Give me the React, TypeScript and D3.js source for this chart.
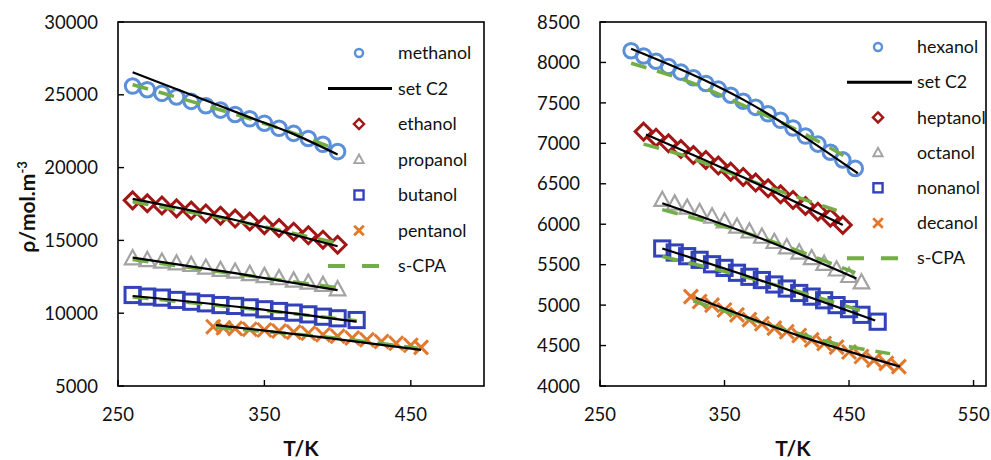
import React from "react";
import * as d3 from "d3";

// ---------- ticks ----------
const leftTicksX = [250, 350, 450];
const leftTicksY = [5000, 10000, 15000, 20000, 25000, 30000];
const rightTicksX = [250, 350, 450, 550];
const rightTicksY = [4000, 4500, 5000, 5500, 6000, 6500, 7000, 7500, 8000, 8500];

// ---------- left panel experimental data ----------
const tMethanol = [260, 270, 280, 290, 300, 310, 320, 330, 340, 350, 360, 370, 380, 390, 400];
const methanol = [25600, 25350, 25100, 24850, 24550, 24250, 23950, 23650, 23350, 23050, 22700, 22350, 22000, 21600, 21100];
const tEthanol = [260, 270, 280, 290, 300, 310, 320, 330, 340, 350, 360, 370, 380, 390, 400];
const ethanol = [17750, 17550, 17400, 17200, 17050, 16850, 16700, 16500, 16300, 16050, 15850, 15600, 15350, 15050, 14700];
const tPropanol = [260, 270, 280, 290, 300, 310, 320, 330, 340, 350, 360, 370, 380, 390, 400];
const propanol = [13770, 13650, 13540, 13420, 13310, 13130, 12970, 12850, 12690, 12550, 12400, 12240, 12100, 11940, 11640];
const tButanol = [260, 270, 280, 290, 300, 310, 320, 330, 340, 350, 360, 370, 380, 390, 400, 413];
const butanol = [11250, 11140, 11070, 10910, 10790, 10680, 10560, 10500, 10400, 10270, 10150, 10040, 9920, 9760, 9650, 9530];
const tPentanol = [315, 322, 330, 340, 350, 360, 370, 380, 390, 400, 410, 420, 430, 440, 450, 457];
const pentanol = [9070, 9000, 8960, 8900, 8850, 8780, 8700, 8620, 8520, 8420, 8300, 8180, 8060, 7940, 7800, 7650];

// ---------- left panel model curves ----------
const tMethanolC2 = [260, 300, 340, 370, 400];
const methanolC2 = [26550, 25000, 23450, 22300, 20900];
const tMethanolS = [260, 300, 340, 380, 398];
const methanolS = [25700, 24550, 23350, 22000, 21300];
const tEthanolC2 = [260, 330, 400];
const ethanolC2 = [17850, 16400, 14600];
const tEthanolS = [260, 330, 398];
const ethanolS = [17650, 16350, 14850];
const tPropanolC2 = [260, 330, 400];
const propanolC2 = [13820, 12750, 11580];
const tPropanolS = [260, 330, 400];
const propanolS = [13680, 12700, 11750];
const tButanolC2 = [260, 340, 413];
const butanolC2 = [11180, 10350, 9420];
const tButanolS = [260, 340, 413];
const butanolS = [11120, 10300, 9480];
const tPentanolC2 = [317, 390, 457];
const pentanolC2 = [9180, 8340, 7480];
const tPentanolS = [317, 390, 455];
const pentanolS = [9000, 8380, 7600];

// ---------- right panel experimental data ----------
const tHexanol = [275, 285, 295, 305, 315, 325, 335, 345, 355, 365, 375, 385, 395, 405, 415, 425, 435, 445, 455];
const hexanol = [8145, 8080, 8015, 7950, 7880, 7810, 7740, 7670, 7595, 7520, 7445, 7365, 7285, 7190, 7090, 6990, 6890, 6795, 6690];
const tHeptanol = [285, 295, 305, 315, 325, 335, 345, 355, 365, 375, 385, 395, 405, 415, 425, 435, 445];
const heptanol = [7145, 7070, 7000, 6930, 6855, 6795, 6725, 6650, 6585, 6515, 6445, 6370, 6300, 6225, 6155, 6080, 5990];
const tOctanol = [300, 310, 320, 330, 340, 350, 360, 370, 380, 390, 400, 410, 420, 430, 440, 450, 460];
const octanol = [6300, 6255, 6205, 6150, 6095, 6035, 5970, 5910, 5845, 5780, 5715, 5650, 5580, 5510, 5440, 5360, 5280];
const tNonanol = [300, 310, 320, 330, 340, 350, 360, 370, 380, 390, 400, 410, 420, 430, 440, 450, 460, 473];
const nonanol = [5700, 5650, 5605, 5560, 5505, 5460, 5400, 5350, 5310, 5255, 5205, 5150, 5105, 5060, 5000, 4950, 4880, 4795];
const tDecanol = [323, 330, 340, 350, 360, 370, 380, 390, 400, 410, 420, 430, 440, 450, 460, 470, 480, 490];
const decanol = [5105, 5045, 5000, 4940, 4880, 4820, 4770, 4715, 4670, 4625, 4570, 4525, 4480, 4420, 4365, 4320, 4280, 4240];

// ---------- right panel model curves ----------
const tHexanolC2 = [275, 365, 457];
const hexanolC2 = [8170, 7540, 6630];
const tHexanolS = [275, 325, 365, 410, 450];
const hexanolS = [7990, 7740, 7470, 7150, 6810];
const tHeptanolC2 = [287, 365, 445];
const heptanolC2 = [7110, 6580, 5990];
const tHeptanolS = [285, 315, 365, 440];
const heptanolS = [6990, 6860, 6570, 6170];
const tOctanolC2 = [300, 380, 456];
const octanolC2 = [6260, 5820, 5330];
const tOctanolS = [300, 380, 455];
const octanolS = [6180, 5830, 5400];
const tNonanolC2 = [300, 380, 471];
const nonanolC2 = [5700, 5300, 4810];
const tNonanolS = [300, 380, 462];
const nonanolS = [5600, 5295, 4920];
const tDecanolC2 = [327, 410, 491];
const decanolC2 = [5090, 4620, 4240];
const tDecanolS = [325, 400, 440, 483];
const decanolS = [5050, 4690, 4520, 4400];

// ---------- legend labels ----------
const leftLegend = ["methanol", "set C2", "ethanol", "propanol", "butanol", "pentanol", "s-CPA"];
const rightLegend = ["hexanol", "set C2", "heptanol", "octanol", "nonanol", "decanol", "s-CPA"];

const C_LBLUE = "#5B8FD8";
const C_RED = "#A31616";
const C_GRAY = "#A3A3A3";
const C_BLUE = "#3342B8";
const C_ORANGE = "#E0782E";
const C_GREEN = "#72AE45";
const FONT = "Lato, 'Liberation Sans', sans-serif";

type MarkerType = "circle" | "diamond" | "triangle" | "square" | "x";
const markerTypes: MarkerType[] = ["circle", "diamond", "triangle", "square", "x"];
const markerColors = [C_LBLUE, C_RED, C_GRAY, C_BLUE, C_ORANGE];

function Marker({ type, x, y, color, big }: { type: MarkerType; x: number; y: number; color: string; big: boolean }) {
  const k = big ? 1 : 0.6;
  const sw = big ? 3 : 2.4;
  if (type === "circle") {
    return <circle cx={x} cy={y} r={big ? 7.3 : 4} fill="none" stroke={color} strokeWidth={sw} />;
  }
  if (type === "diamond") {
    const s = 8.4 * k;
    return <path d={`M${x},${y - s}L${x + s},${y}L${x},${y + s}L${x - s},${y}Z`} fill="none" stroke={color} strokeWidth={sw} />;
  }
  if (type === "triangle") {
    const w = 7.8 * k, t = 8.2 * k, b = 6 * k;
    return <path d={`M${x},${y - t}L${x + w},${y + b}L${x - w},${y + b}Z`} fill="none" stroke={color} strokeWidth={big ? 2.2 : 1.9} strokeLinejoin="miter" />;
  }
  if (type === "square") {
    const h = 7.6 * k;
    return <rect x={x - h} y={y - h} width={2 * h} height={2 * h} fill="none" stroke={color} strokeWidth={sw} />;
  }
  const h = big ? 7 : 4.8;
  return (
    <g stroke={color} strokeWidth={big ? 3 : 2.8}>
      <line x1={x - h} y1={y - h} x2={x + h} y2={y + h} />
      <line x1={x - h} y1={y + h} x2={x + h} y2={y - h} />
    </g>
  );
}

type Panel = {
  x0: number; x1: number; y0: number; y1: number;
  xDomain: [number, number]; yDomain: [number, number];
  xTicks: number[]; yTicks: number[];
  exp: { t: number[]; v: number[] }[];
  c2: { t: number[]; v: number[] }[];
  s: { t: number[]; v: number[] }[];
  legend: string[];
  legMarkX: number; legLineX0: number; legLineX1: number; legTextX: number; legY0: number; legDy: number;
};

function PanelView({ p }: { p: Panel }) {
  const xs = d3.scaleLinear().domain(p.xDomain).range([p.x0, p.x1]);
  const ys = d3.scaleLinear().domain(p.yDomain).range([p.y1, p.y0]);
  const line = d3.line<[number, number]>().x((d) => xs(d[0])).y((d) => ys(d[1])).curve(d3.curveMonotoneX);
  const mk = (c: { t: number[]; v: number[] }) => line(c.t.map((t, i) => [t, c.v[i]] as [number, number])) || "";
  const legY = (i: number) => p.legY0 + i * p.legDy;
  const markerRows = [0, 2, 3, 4, 5];
  return (
    <g fontFamily={FONT}>
      {p.exp.map((s, si) => (
        <g key={si}>
          {s.t.map((t, i) => (
            <Marker key={i} type={markerTypes[si]} x={xs(t)} y={ys(s.v[i])} color={markerColors[si]} big />
          ))}
        </g>
      ))}
      {p.s.map((c, i) => (
        <path key={"s" + i} d={mk(c)} fill="none" stroke={C_GREEN} strokeWidth={3.5} strokeDasharray="16,11" />
      ))}
      {p.c2.map((c, i) => (
        <path key={"c" + i} d={mk(c)} fill="none" stroke="#000" strokeWidth={2.2} />
      ))}
      <rect x={p.x0} y={p.y0} width={p.x1 - p.x0} height={p.y1 - p.y0} fill="none" stroke="#000" strokeWidth={1.6} />
      {p.xTicks.map((t) => (
        <g key={"xt" + t}>
          <line x1={xs(t)} x2={xs(t)} y1={p.y1} y2={p.y1 - 6} stroke="#000" strokeWidth={1.4} />
          <text x={xs(t)} y={421} textAnchor="middle" fontSize={18.5} fill="#111">{t}</text>
        </g>
      ))}
      {p.yTicks.map((t) => (
        <g key={"yt" + t}>
          <line x1={p.x0} x2={p.x0 + 6} y1={ys(t)} y2={ys(t)} stroke="#000" strokeWidth={1.4} />
          <text x={p.x0 - 20} y={ys(t)} dy="0.36em" textAnchor="end" fontSize={18.5} fill="#111">{t}</text>
        </g>
      ))}
      <text x={(p.x0 + p.x1) / 2} y={456} textAnchor="middle" fontSize={21} fontWeight="bold" fill="#111">T/K</text>
      {markerRows.map((row, si) => (
        <Marker key={"lm" + si} type={markerTypes[si]} x={p.legMarkX} y={legY(row)} color={markerColors[si]} big={false} />
      ))}
      <line x1={p.legLineX0} x2={p.legLineX1} y1={legY(1)} y2={legY(1)} stroke="#000" strokeWidth={3} />
      <line x1={p.legLineX0} x2={p.legLineX1} y1={legY(6)} y2={legY(6)} stroke={C_GREEN} strokeWidth={4} strokeDasharray="17,17" />
      {p.legend.map((name, i) => (
        <text key={"lt" + i} x={p.legTextX} y={legY(i)} dy="0.35em" fontSize={17.8} fill="#111">{name}</text>
      ))}
    </g>
  );
}

const pair = (t: number[], v: number[]) => ({ t, v });

export default function App() {
  const left: Panel = {
    x0: 118, x1: 484, y0: 22, y1: 386,
    xDomain: [250, 500], yDomain: [5000, 30000],
    xTicks: leftTicksX, yTicks: leftTicksY,
    exp: [pair(tMethanol, methanol), pair(tEthanol, ethanol), pair(tPropanol, propanol), pair(tButanol, butanol), pair(tPentanol, pentanol)],
    c2: [pair(tMethanolC2, methanolC2), pair(tEthanolC2, ethanolC2), pair(tPropanolC2, propanolC2), pair(tButanolC2, butanolC2), pair(tPentanolC2, pentanolC2)],
    s: [pair(tMethanolS, methanolS), pair(tEthanolS, ethanolS), pair(tPropanolS, propanolS), pair(tButanolS, butanolS), pair(tPentanolS, pentanolS)],
    legend: leftLegend,
    legMarkX: 359, legLineX0: 328, legLineX1: 392, legTextX: 398, legY0: 53, legDy: 35.5,
  };
  const right: Panel = {
    x0: 600, x1: 986, y0: 22, y1: 386,
    xDomain: [250, 560], yDomain: [4000, 8500],
    xTicks: rightTicksX, yTicks: rightTicksY,
    exp: [pair(tHexanol, hexanol), pair(tHeptanol, heptanol), pair(tOctanol, octanol), pair(tNonanol, nonanol), pair(tDecanol, decanol)],
    c2: [pair(tHexanolC2, hexanolC2), pair(tHeptanolC2, heptanolC2), pair(tOctanolC2, octanolC2), pair(tNonanolC2, nonanolC2), pair(tDecanolC2, decanolC2)],
    s: [pair(tHexanolS, hexanolS), pair(tHeptanolS, heptanolS), pair(tOctanolS, octanolS), pair(tNonanolS, nonanolS), pair(tDecanolS, decanolS)],
    legend: rightLegend,
    legMarkX: 878, legLineX0: 847, legLineX1: 912, legTextX: 917, legY0: 47, legDy: 35.2,
  };
  return (
    <svg width={991} height={460} style={{ position: "absolute", left: 0, top: 0, background: "#fff" }}>
      <rect width={991} height={460} fill="#fff" />
      <PanelView p={left} />
      <PanelView p={right} />
      <text transform="translate(35,207) rotate(-90)" textAnchor="middle" fontFamily={FONT} fontSize={21} fontWeight="bold" fill="#111">
        ρ/mol.m<tspan dy="-8" fontSize={13}>-3</tspan>
      </text>
    </svg>
  );
}
